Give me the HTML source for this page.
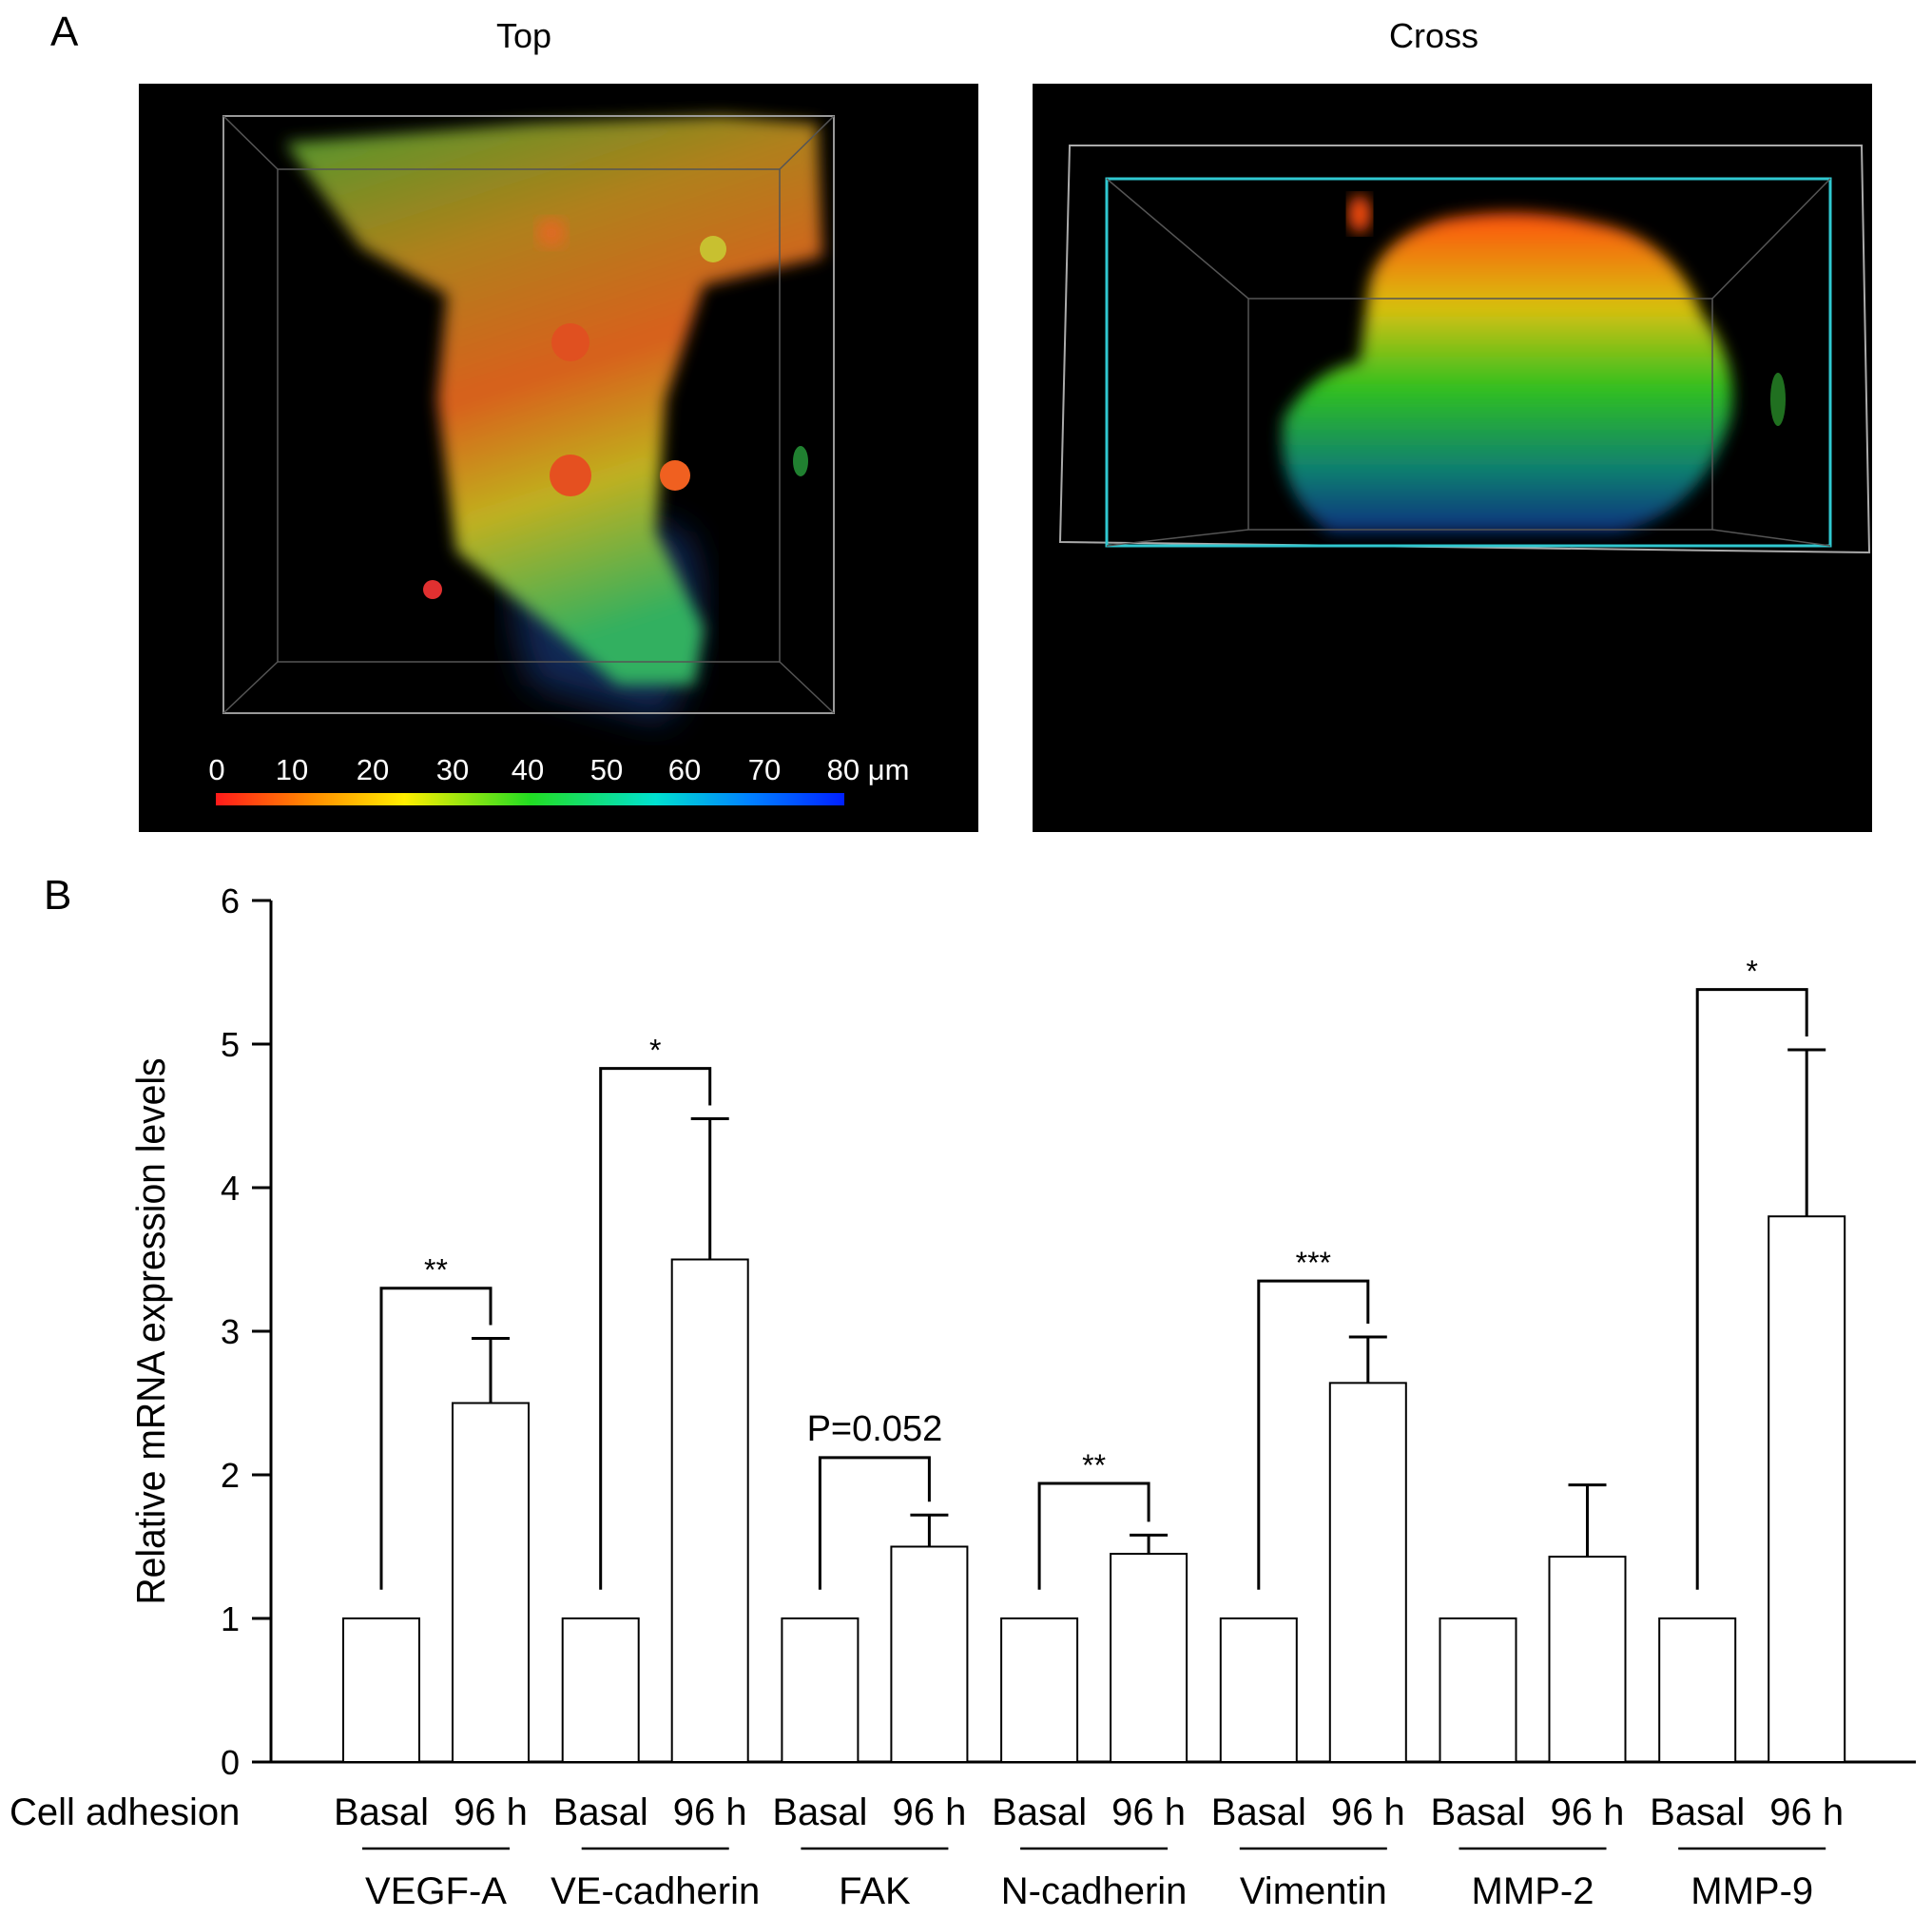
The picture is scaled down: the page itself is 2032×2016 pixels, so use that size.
<!DOCTYPE html>
<html><head><meta charset="utf-8"><style>
html,body{margin:0;padding:0;background:#fff}
svg{display:block;font-family:"Liberation Sans",Arial,sans-serif}
</style></head><body>
<svg id="fig" width="2032" height="2016" viewBox="0 0 2032 2016" xmlns="http://www.w3.org/2000/svg">
<defs>
<linearGradient id="cbar" x1="0" x2="1" y1="0" y2="0">
<stop offset="0" stop-color="#ff1a1a"/><stop offset="0.15" stop-color="#ff8a00"/><stop offset="0.3" stop-color="#ffee00"/><stop offset="0.5" stop-color="#22dd22"/><stop offset="0.7" stop-color="#00e0d0"/><stop offset="0.85" stop-color="#0080ff"/><stop offset="1" stop-color="#0020ff"/>
</linearGradient>
<linearGradient id="tissue" x1="0" x2="0.3" y1="0" y2="1">
<stop offset="0" stop-color="#4a9a30"/><stop offset="0.3" stop-color="#b0801a"/><stop offset="0.55" stop-color="#d8601a"/><stop offset="0.75" stop-color="#c0b020"/><stop offset="1" stop-color="#30b060"/>
</linearGradient>
<linearGradient id="cross" x1="0" x2="0" y1="0" y2="1">
<stop offset="0" stop-color="#ff5010"/><stop offset="0.3" stop-color="#d8c010"/><stop offset="0.55" stop-color="#30c020"/><stop offset="0.8" stop-color="#108070"/><stop offset="1" stop-color="#103080"/>
</linearGradient>
<filter id="blur"><feGaussianBlur stdDeviation="8"/></filter>
<filter id="blur2"><feGaussianBlur stdDeviation="18"/></filter>
</defs>

<text x="53" y="48" font-size="44">A</text>
<text x="551" y="50" font-size="36" text-anchor="middle">Top</text>
<text x="1508" y="50" font-size="36" text-anchor="middle">Cross</text>

<g>
<rect x="146" y="88" width="883" height="787" fill="#000"/>
<path d="M560,520 Q520,620 560,720 L700,760 Q760,640 720,560 Z" fill="#14306a" opacity="0.8" filter="url(#blur2)"/>
<path d="M300,150 L560,130 L760,122 L860,130 L865,270 L740,300 L700,420 L690,560 L740,660 L730,720 L650,720 L580,660 L480,580 L460,420 L470,310 L380,260 Z" fill="url(#tissue)" filter="url(#blur)"/>
<circle cx="580" cy="245" r="16" fill="#e06a20" filter="url(#blur)"/>
<circle cx="600" cy="360" r="20" fill="#e05020"/>
<circle cx="710" cy="500" r="16" fill="#f06020"/>
<circle cx="600" cy="500" r="22" fill="#e55020"/>
<circle cx="750" cy="262" r="14" fill="#c8c030"/>
<circle cx="455" cy="620" r="10" fill="#e03030"/>
<ellipse cx="842" cy="485" rx="8" ry="16" fill="#208030"/>
<rect x="235" y="122" width="642" height="628" fill="none" stroke="#999" stroke-width="2"/>
<rect x="292" y="178" width="528" height="518" fill="none" stroke="#555" stroke-width="1.5"/>
<path d="M235,122 L292,178 M877,122 L820,178 M235,750 L292,696 M877,750 L820,696" stroke="#555" stroke-width="1.5"/>
<rect x="227" y="834" width="661" height="13" fill="url(#cbar)"/>
<g fill="#fff" font-size="31" text-anchor="middle">
<text x="228" y="820">0</text><text x="307" y="820">10</text><text x="392" y="820">20</text><text x="476" y="820">30</text><text x="555" y="820">40</text><text x="638" y="820">50</text><text x="720" y="820">60</text><text x="804" y="820">70</text><text x="913" y="820">80 μm</text>
</g>
</g>

<g>
<rect x="1086" y="88" width="883" height="787" fill="#000"/>
<path d="M1440,300 Q1450,250 1520,230 Q1600,215 1680,235 Q1760,250 1790,330 Q1830,380 1820,440 Q1790,540 1700,560 L1400,560 Q1340,520 1350,440 Q1380,390 1430,380 Z" fill="url(#cross)" filter="url(#blur)"/>
<ellipse cx="1430" cy="225" rx="12" ry="20" fill="#ff5010" filter="url(#blur)"/>
<ellipse cx="1870" cy="420" rx="8" ry="28" fill="#207020"/>
<path d="M1125,153 L1958,153 L1966,581 L1115,570 Z" fill="none" stroke="#aaa" stroke-width="2"/>
<rect x="1164" y="188" width="761" height="386" fill="none" stroke="#30c8d0" stroke-width="3"/>
<rect x="1313" y="314" width="488" height="243" fill="none" stroke="#555" stroke-width="1.5"/>
<path d="M1164,188 L1313,314 M1925,188 L1801,314 M1164,574 L1313,557 M1925,574 L1801,557" stroke="#555" stroke-width="1.5"/>
</g>

<text x="46" y="956" font-size="44">B</text>
<g id="chart"></g>
</svg>
<script>
const genes = ["VEGF-A","VE-cadherin","FAK","N-cadherin","Vimentin","MMP-2","MMP-9"];
const basalValues = [1,1,1,1,1,1,1];
const h96Values = [2.5,3.5,1.5,1.45,2.64,1.43,3.8];
const h96Errors = [0.45,0.98,0.22,0.13,0.32,0.5,1.16];
const sigLabels = ["**","*","P=0.052","**","***","","*"];
const bracketTops = [3.3,4.83,2.12,1.94,3.35,null,5.38];
const yTicks = [0,1,2,3,4,5,6];

const NS="http://www.w3.org/2000/svg";
const g=document.getElementById('chart');
const X0=285, Y0=1853, YTOP=947, XEND=2015;
const y=v=>Y0-(Y0-YTOP)*v/6;
const gx=i=>361+i*230.7;
const BW=80, OFF=115;
function el(t,a){const e=document.createElementNS(NS,t);for(const k in a)e.setAttribute(k,a[k]);g.appendChild(e);return e;}
function txt(x,yy,s,size,anchor){const e=el('text',{x:x,y:yy,'font-size':size,'text-anchor':anchor||'middle',fill:'#000'});e.textContent=s;return e;}

let ax=el('line',{x1:X0,y1:YTOP,x2:X0,y2:Y0,stroke:'#000','stroke-width':3});


let bx=el('line',{x1:X0-20,y1:Y0,x2:XEND,y2:Y0,stroke:'#000','stroke-width':3});


yTicks.forEach(t=>{
  let l=el('line',{x1:X0-20,y1:y(t),x2:X0,y2:y(t),stroke:'#000','stroke-width':3});
  
  
  let tl=txt(252,y(t)+13,String(t),36,'end');
  
  
});
let yt=txt(0,0,'Relative mRNA expression levels',42);
yt.setAttribute('transform','translate(173,1400) rotate(-90) scale(0.93,1)');


let ca=txt(10,1919,'Cell adhesion',40,'start');



genes.forEach((gn,i)=>{
  const xb=gx(i), xh=xb+OFF;
  let b1=el('rect',{x:xb,y:y(basalValues[i]),width:BW,height:Y0-y(basalValues[i]),fill:'#fff',stroke:'#000','stroke-width':2});
  
  
  let b2=el('rect',{x:xh,y:y(h96Values[i]),width:BW,height:Y0-y(h96Values[i]),fill:'#fff',stroke:'#000','stroke-width':2});
  
  
  const top=h96Values[i]+h96Errors[i], cx=xh+BW/2;
  let e1=el('path',{d:`M${cx},${y(h96Values[i])} L${cx},${y(top)} M${cx-20},${y(top)} L${cx+20},${y(top)}`,stroke:'#000','stroke-width':3,fill:'none'});
  
  
  if(bracketTops[i]!==null){
    const bt=bracketTops[i], lx=xb+BW/2;
    let br=el('path',{d:`M${lx},${y(1.2)} L${lx},${y(bt)} L${cx},${y(bt)} L${cx},${y(top)-14}`,stroke:'#000','stroke-width':3,fill:'none'});
    
    
    const big=sigLabels[i].length>3;
    let s=txt((lx+cx)/2,y(bt)-(big?18:8),sigLabels[i],big?38:32);
    
    
  }
  let l1=txt(xb+BW/2,1919,'Basal',40);
  
  
  let l2=txt(cx,1919,'96 h',40);
  
  
  let ul=el('line',{x1:xb+20,y1:1944,x2:xh+BW-20,y2:1944,stroke:'#000','stroke-width':2.5});
  
  
  let gl=txt((xb+xh+BW)/2,2002,gn,40);
  
  
});
</script>
</body></html>
